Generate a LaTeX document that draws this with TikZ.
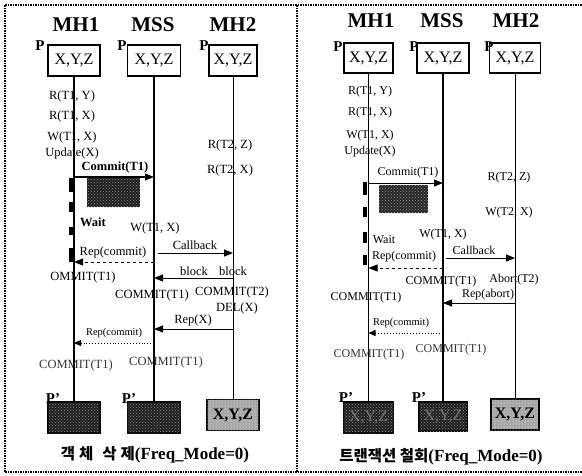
\documentclass[tikz,border=0pt]{standalone}
\usepackage{fontspec}
\setmainfont{Liberation Serif}
\newfontfamily\kofont{Noto Sans CJK KR}
\usetikzlibrary{arrows.meta,patterns}
\tikzset{
  frame/.style={line width=1.2pt, dash pattern=on 1.5pt off 1pt},
  title/.style={font=\fontsize{21}{21}\selectfont\bfseries, inner sep=0pt},
  plbl/.style={font=\fontsize{15}{15}\selectfont\bfseries, inner sep=0pt},
  objbox/.style={draw, line width=1.3pt, fill=white, minimum height=31pt, inner sep=0pt,
    font=\fontsize{16}{16}\selectfont},
  darkbox/.style={objbox, fill=black!88, text=black!55,
    postaction={pattern=crosshatch dots, pattern color=black!45}},
  greybox/.style={objbox, fill=black!35, font=\fontsize{16}{16}\selectfont\bfseries,
    postaction={pattern=dots, pattern color=white}},
  lbl/.style={font=\fontsize{12.5}{13}\selectfont, inner sep=0pt},
  lblr/.style={font=\fontsize{12}{12}\selectfont, inner sep=0pt},
  small/.style={font=\fontsize{10.5}{11}\selectfont, inner sep=0pt},
  msg/.style={-{Triangle[length=9pt,width=7pt]}, line width=0.9pt},
  waitbar/.style={line width=4pt},
  caption/.style={font=\fontsize{17}{17}\selectfont\bfseries, inner sep=0pt}
}

\begin{document}
\begin{tikzpicture}[x=1pt,y=-1pt]
  \useasboundingbox (0,0) rectangle (582,475);
  \draw[frame] (5,5) -- (584,5) (5,472) -- (584,472) (5,5) -- (5,472) (297,5) -- (297,472);

  % left panel
  \node[title] (tA1) at (76,25) {MH1};
  \node[title] (tA2) at (153,25) {MSS};
  \node[title] (tA3) at (233,25) {MH2};
  \node[objbox, minimum width=52pt] (bA1) at (74,60.5) {X,Y,Z};
  \node[objbox, minimum width=53pt] (bA2) at (154,60.5) {X,Y,Z};
  \node[objbox, minimum width=48pt] (bA3) at (233,60.5) {X,Y,Z};
  \node[plbl] (pA1) at (40,46) {P};
  \node[plbl] (pA2) at (122,46) {P};
  \node[plbl] (pA3) at (204,46) {P};
  \node[darkbox, minimum width=52pt] (nA1) at (74,417.5) {};
  \node[darkbox, minimum width=53pt] (nA2) at (154,417.5) {};
  \node[greybox, minimum width=52pt] (nA3) at (233,415) {X,Y,Z};
  \node[plbl] (qA1) at (53,399) {P'};
  \node[plbl] (qA2) at (129,399) {P'};
  \draw[line width=1.8pt] (bA1) -- (nA1);
  \draw[line width=1.2pt] (bA2) -- (nA2);
  \draw[line width=0.8pt] (bA3) -- (nA3);

  \node[lbl] (rA1) at (72,96) {R(T1, Y)};
  \node[lbl] (rA2) at (72,116) {R(T1, X)};
  \node[lbl] (rA3) at (72,137) {W(T1, X)};
  \node[lbl] (rA4) at (72,153) {Update(X)};
  \node[lbl] (sA1) at (230,145) {R(T2, Z)};
  \node[lbl] (sA2) at (230,170) {R(T2, X)};

  \node[lbl, font=\fontsize{12.5}{13}\selectfont\bfseries] (cA1) at (115,167) {Commit(T1)};
  \draw[msg, line width=1.1pt] (bA1 |- 0,177) -- (bA2 |- 0,177);
  \node[fill=black!88, postaction={pattern=crosshatch dots, pattern color=black!45},
    minimum width=53pt, minimum height=29pt, inner sep=0pt] (kA) at (113.5,192.5) {};
  \draw[waitbar, dash pattern=on 14pt off 10pt on 10pt off 15pt on 8pt off 13pt on 14pt off 0pt]
    (70.5,178) -- (70.5,262);
  \node[lbl, font=\fontsize{12.5}{13}\selectfont\bfseries] (wA) at (93,222) {Wait};
  \node[lbl] (wA2) at (155,228) {W(T1, X)};

  \node[lbl] (cbA) at (195,245) {Callback};
  \draw[msg] (158,253) -- (bA3 |- 0,253);
  \node[lbl] (rpA1) at (113,252) {Rep(commit)};
  \draw[msg, dashed] (bA2 |- 0,262) -- (bA1 |- 0,262);
  \node[lbl] (oA1) at (83,277) {OMMIT(T1)};
  \node[lbl] (blA1) at (194,271) {block};
  \node[lbl] (blA2) at (233,271) {block};
  \draw[msg] (bA3 |- 0,278) -- (bA2 |- 0,278);
  \node[lbl] (oA2) at (152,295) {COMMIT(T1)};
  \node[lbl] (oA3) at (232,292) {COMMIT(T2)};
  \node[lbl] (dA) at (237,308) {DEL(X)};
  \node[lbl] (rxA) at (193,320) {Rep(X)};
  \draw[msg] (bA3 |- 0,329) -- (bA2 |- 0,329);
  \node[small] (rpA2) at (114,333) {Rep(commit)};
  \draw[msg, dotted, -{Triangle[length=7pt,width=6pt]}] (bA2 |- 0,343) -- (bA1 |- 0,343);
  \node[lbl, text=black!80] (oA4) at (76,365) {COMMIT(T1)};
  \node[lbl, text=black!80] (oA5) at (166,362) {COMMIT(T1)};
  \node[caption] (capA) at (155,455)
    {{\kofont\fontsize{15.5}{17}\selectfont 객\hspace{4pt}체\hspace{9pt}삭\hspace{4pt}제}(Freq\_Mode=0)};

  % right panel
  \node[title] (tB1) at (371,21) {MH1};
  \node[title] (tB2) at (442,21) {MSS};
  \node[title] (tB3) at (516,21) {MH2};
  \node[objbox, minimum width=49pt, minimum height=30pt] (bB1) at (368.5,58) {X,Y,Z};
  \node[objbox, minimum width=52pt, minimum height=30pt] (bB2) at (443,58) {X,Y,Z};
  \node[objbox, minimum width=51pt, minimum height=30pt] (bB3) at (515,58) {X,Y,Z};
  \node[plbl] (pB1) at (338,47) {P};
  \node[plbl] (pB2) at (414,47) {P};
  \node[plbl] (pB3) at (489,47) {P};
  \node[darkbox, minimum width=50pt] (nB1) at (368.5,417.5) {X,Y,Z};
  \node[darkbox, minimum width=48pt, minimum height=29pt] (nB2) at (443,416.5) {X,Y,Z};
  \node[greybox, minimum width=48pt] (nB3) at (515,414.5) {X,Y,Z};
  \node[plbl] (qB1) at (346,398) {P'};
  \node[plbl] (qB2) at (419,398) {P'};
  \draw[line width=1.6pt] (bB1) -- (nB1);
  \draw[line width=1.2pt] (bB2) -- (nB2);
  \draw[line width=1pt] (bB3) -- (nB3);

  \node[lblr] (rB1) at (370,92) {R(T1, Y)};
  \node[lblr] (rB2) at (370,113) {R(T1, X)};
  \node[lblr] (rB3) at (370,136) {W(T1, X)};
  \node[lblr] (rB4) at (370,152) {Update(X)};
  \node[lblr] (sB1) at (509,178) {R(T2, Z)};
  \node[lblr] (sB2) at (509,213) {W(T2, X)};

  \node[lblr] (cB1) at (408,173) {Commit(T1)};
  \draw[msg] (bB1 |- 0,183) -- (bB2 |- 0,183);
  \node[fill=black!85, postaction={pattern=crosshatch dots, pattern color=black!40},
    minimum width=49pt, minimum height=28pt, inner sep=0pt] (kB) at (403.5,199) {};
  \draw[waitbar, dash pattern=on 13pt off 12pt on 10pt off 15pt on 11pt off 12pt on 10pt off 0pt]
    (364.5,182) -- (364.5,265);
  \node[lblr] (wB) at (384,240) {Wait};
  \node[lblr] (wB2) at (443,235) {W(T1, X)};

  \node[lblr] (cbB) at (474,250) {Callback};
  \draw[msg] (446,258) -- (bB3 |- 0,258);
  \node[lblr] (rpB1) at (404,257) {Rep(commit)};
  \draw[msg, dashed] (bB2 |- 0,268) -- (bB1 |- 0,268);
  \node[lblr] (oB1) at (441,282) {COMMIT(T1)};
  \node[lblr] (abB) at (514,280) {Abort(T2)};
  \node[lblr] (rpB2) at (488,295) {Rep(abort)};
  \draw[msg] (bB3 |- 0,303) -- (bB2 |- 0,303);
  \node[lblr] (oB2) at (366,298) {COMMIT(T1)};
  \node[small] (rpB3) at (401,323) {Rep(commit)};
  \draw[msg, dotted, -{Triangle[length=7pt,width=6pt]}] (bB2 |- 0,333) -- (bB1 |- 0,333);
  \node[lblr, text=black!80] (oB3) at (369,355) {COMMIT(T1)};
  \node[lblr, text=black!80] (oB4) at (451,350) {COMMIT(T1)};
  \node[caption] (capB) at (441,457)
    {{\kofont\fontsize{15.5}{17}\selectfont 트랜잭션 철회}(Freq\_Mode=0)};
\end{tikzpicture}
\end{document}
